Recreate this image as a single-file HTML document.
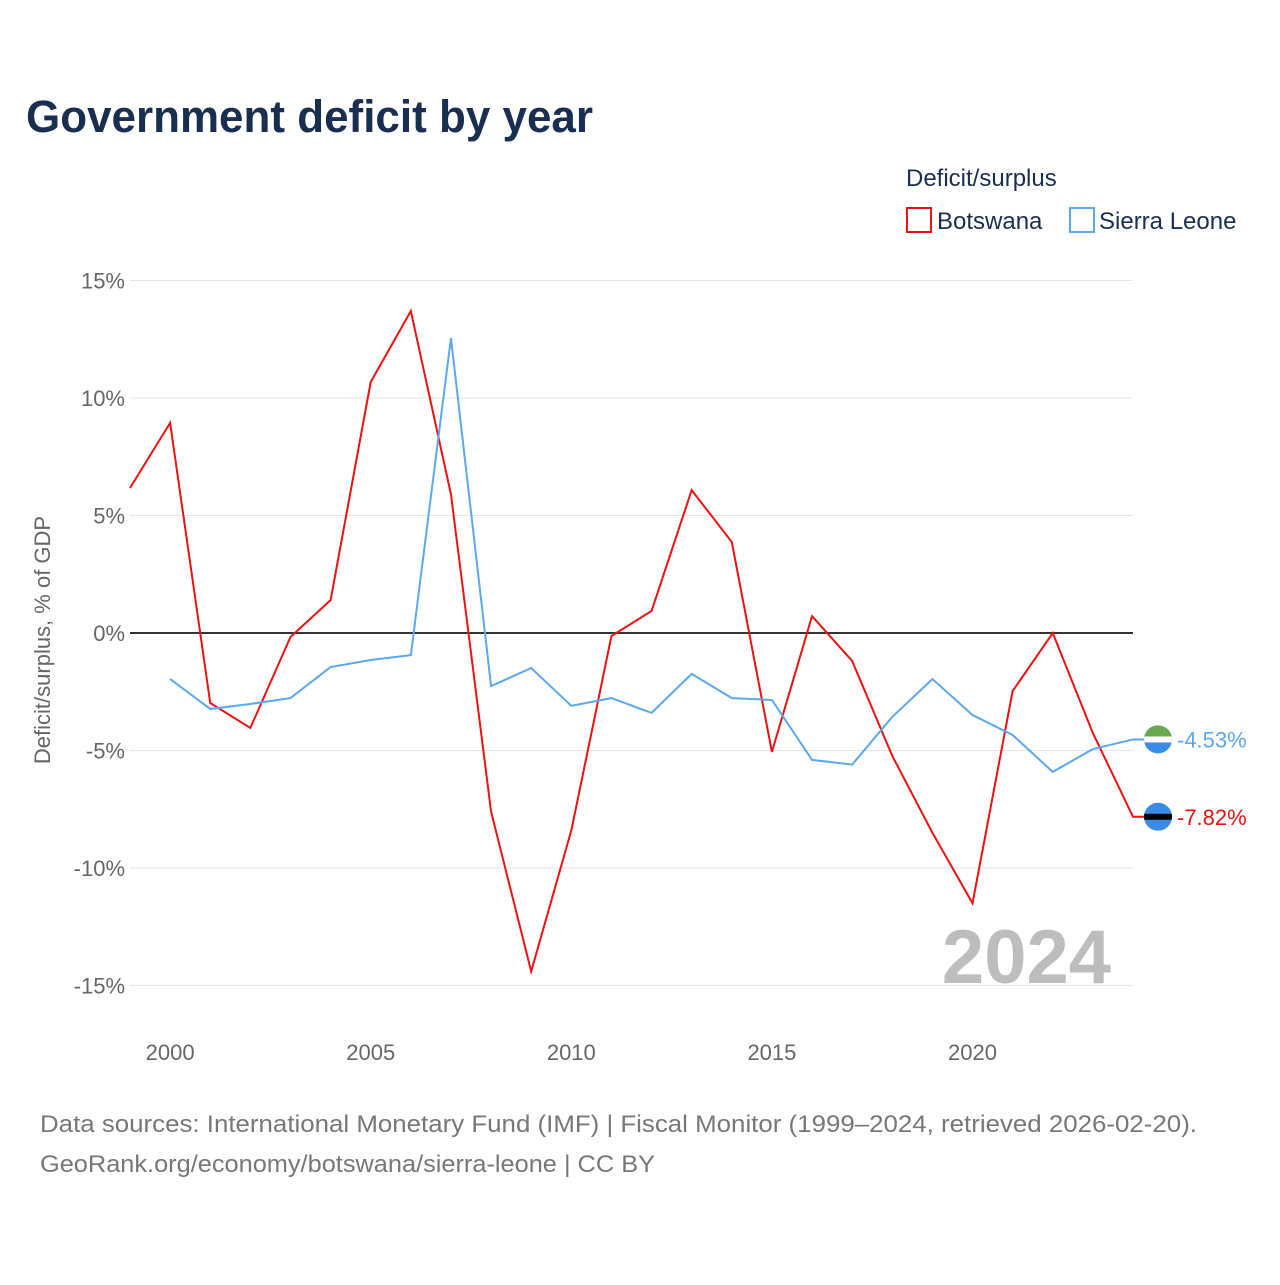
<!DOCTYPE html>
<html><head><meta charset="utf-8">
<style>
body{margin:0;background:#fff;font-family:"Liberation Sans",sans-serif;}
svg text{font-family:"Liberation Sans",sans-serif;}
</style></head>
<body>
<svg width="1280" height="1280" viewBox="0 0 1280 1280" xmlns="http://www.w3.org/2000/svg">
<text x="26" y="132" font-size="45" font-weight="bold" fill="#1a2e4f" textLength="567" lengthAdjust="spacingAndGlyphs">Government deficit by year</text>
<text x="906" y="186" font-size="24" fill="#1a2e4f">Deficit/surplus</text>
<g><rect x="907" y="208" width="24" height="24" fill="none" stroke="#ee1111" stroke-width="2"/><text x="937" y="229" font-size="24" fill="#1a2e4f">Botswana</text></g>
<g><rect x="1070" y="208" width="24" height="24" fill="none" stroke="#5ba8ee" stroke-width="2"/><text x="1099" y="229" font-size="24" fill="#1a2e4f">Sierra Leone</text></g>
<g id="grid"></g>
<text transform="translate(50,640) rotate(-90)" text-anchor="middle" font-size="22" fill="#666">Deficit/surplus, % of GDP</text>
<text x="1111" y="983" text-anchor="end" font-size="76" font-weight="bold" fill="#bdbdbd">2024</text>
<g id="series"></g>
<text x="40" y="1132" font-size="24" fill="#777" textLength="1157" lengthAdjust="spacingAndGlyphs">Data sources: International Monetary Fund (IMF) | Fiscal Monitor (1999–2024, retrieved 2026-02-20).</text>
<text x="40" y="1172" font-size="24" fill="#777" textLength="615" lengthAdjust="spacingAndGlyphs">GeoRank.org/economy/botswana/sierra-leone | CC BY</text>
</svg>
<script>
const years=[1999,2000,2001,2002,2003,2004,2005,2006,2007,2008,2009,2010,2011,2012,2013,2014,2015,2016,2017,2018,2019,2020,2021,2022,2023,2024];
const botswana=[6.17,8.94,-2.98,-4.04,-0.17,1.4,10.68,13.7,5.9,-7.6,-14.4,-8.4,-0.13,0.94,6.08,3.87,-5.06,0.72,-1.19,-5.23,-8.5,-11.5,-2.47,0,-4.26,-7.82];
const sierraLeone=[null,-1.96,-3.23,-3.02,-2.77,-1.45,-1.15,-0.94,12.55,-2.26,-1.49,-3.1,-2.77,-3.4,-1.74,-2.77,-2.85,-5.4,-5.6,-3.57,-1.96,-3.49,-4.34,-5.91,-4.94,-4.53];
const yTicks=[15,10,5,0,-5,-10,-15];
const xTicks=[2000,2005,2010,2015,2020];
const NS="http://www.w3.org/2000/svg";
const x=v=>130+(v-1999)*(1133-130)/25;
const y=v=>633-v*23.5;
function mk(t,a,p){const e=document.createElementNS(NS,t);for(const k in a)e.setAttribute(k,a[k]);p.appendChild(e);return e;}
const g=document.getElementById('grid');
yTicks.forEach(t=>{
 const l=mk('line',{x1:130,x2:1133,y1:y(t),y2:y(t),stroke:t===0?'#333':'#e6e6e6','stroke-width':t===0?2:1},g);
 
 
 const tx=mk('text',{x:125,y:y(t)+8,'text-anchor':'end','font-size':22,fill:'#666'},g);
 tx.textContent=t+'%';
 
 
});
xTicks.forEach(t=>{
 const tx=mk('text',{x:x(t),y:1060,'text-anchor':'middle','font-size':22,fill:'#666'},g);
 tx.textContent=t;
 
 
});
const s=document.getElementById('series');
function line(vals,color,name){
 let d='';vals.forEach((v,i)=>{if(v===null)return;d+=(d?'L':'M')+x(years[i])+','+y(v);});
 const last=vals[vals.length-1];
 d+='L1158,'+y(last);
 const p=mk('path',{d:d,fill:'none',stroke:color,'stroke-width':2},s);
 
 
 return last;
}
const lb=line(botswana,'#ee1111','botswana');
const ls=line(sierraLeone,'#5ba8ee','sierra-leone');
function flag(v,top,mid,bot,name,color){
 const cy=y(v);
 const grp=mk('g',{},s);
 
 
 mk('clipPath',{id:'c'+name},grp);
 mk('circle',{cx:1158,cy:cy,r:14},document.getElementById('c'+name));
 const cg=mk('g',{'clip-path':'url(#c'+name+')'},grp);
 mk('rect',{x:1144,y:cy-14,width:28,height:28,fill:bot},cg);
 mk('rect',{x:1144,y:cy-14,width:28,height:11,fill:top},cg);
 mk('rect',{x:1144,y:cy-3,width:28,height:6,fill:mid},cg);
 const tx=mk('text',{x:1177,y:cy+8,'font-size':22,fill:color},s);
 tx.textContent=v.toFixed(2)+'%';
 
 
}
flag(ls,'#6aa84f','#ffffff','#3b8ae6','sierra-leone','#5ba8ee');
flag(lb,'#3b8ae6','#000000','#3b8ae6','botswana','#ee1111');
</script>
</body></html>
